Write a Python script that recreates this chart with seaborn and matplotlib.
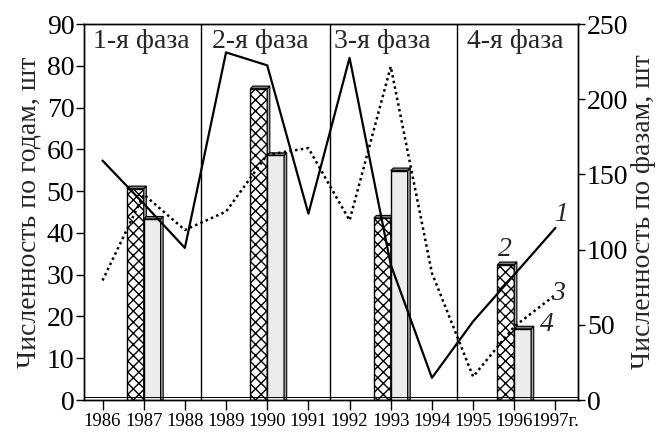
import numpy as np
import pandas as pd
import matplotlib
matplotlib.use("Agg")
import matplotlib.pyplot as plt
from matplotlib.patches import Polygon
import seaborn as sns

# yearly counts (left axis)
years = [1986, 1987, 1988, 1989, 1990, 1991, 1992, 1993, 1994, 1995, 1996, 1997]
year_labels = ["1986", "1987", "1988", "1989", "1990", "1991", "1992", "1993",
               "1994", "1995", "1996", "1997г."]
count_1 = [57.3, 47.0, 36.4, 83.2, 80.1, 44.6, 81.9, 32.4, 5.3, 18.8, 30.0, 41.2]
count_3 = [28.6, 49.2, 40.7, 45.1, 58.7, 60.3, 43.0, 79.8, 30.4, 5.6, 17.6, 25.2]

# counts per phase (right axis)
phase_years = [1987, 1990, 1993, 1996]
phase_2 = [140.5, 207.0, 121.0, 90.0]
phase_4 = [120.3, 162.6, 152.5, 47.3]
phase_names = ["1-я фаза", "2-я фаза", "3-я фаза", "4-я фаза"]
phase_bounds = [1988.38, 1991.53, 1994.62]

sns.set_theme(style="ticks")
plt.rcParams["font.family"] = ["Liberation Serif", "DejaVu Serif"]
plt.rcParams["hatch.linewidth"] = 1.0
plt.rcParams["hatch.color"] = "black"

W, H = 665, 432
fig = plt.figure(figsize=(W / 100, H / 100), dpi=100)
ax = fig.add_axes([84 / W, 1 - 400 / H, (578.5 - 84) / W, (400 - 24) / H])
ax2 = ax.twinx()

bars = pd.DataFrame({
    "year": phase_years * 2,
    "value": phase_2 + phase_4,
    "series": ["2"] * 4 + ["4"] * 4,
})
sns.barplot(data=bars, x="year", y="value", hue="series", native_scale=True,
            width=0.82 / 3, palette=["white", "#ececec"], saturation=1,
            edgecolor="black", linewidth=1.0, legend=False, ax=ax2)

xlim = (1985.55, 1997.56)
ax.set_xlim(*xlim)
ax.set_ylim(0, 90)
ax2.set_ylim(0, 250)

# 3D look: top cap and right side face for every bar
px_x = (xlim[1] - xlim[0]) / (578.5 - 84)
px_y = 250 / 376.0
dx, dy = 2.6 * px_x, 2.6 * px_y
for k, cont in enumerate(ax2.containers):
    z = 2 + k
    for rect in cont:
        x0, w, h = rect.get_x(), rect.get_width(), rect.get_height()
        rect.set_zorder(z)
        if k == 0:
            rect.set_hatch("xxx")
        top = Polygon([(x0, h), (x0 + dx, h + dy), (x0 + w + dx, h + dy), (x0 + w, h)],
                      closed=True, facecolor="#7a7a7a", edgecolor="black", lw=0.8, zorder=z)
        side = Polygon([(x0 + w, 0), (x0 + w, h), (x0 + w + dx, h + dy), (x0 + w + dx, 0)],
                       closed=True, facecolor="#a8a8a8", edgecolor="black", lw=0.8, zorder=z)
        ax2.add_patch(side)
        ax2.add_patch(top)

# yearly lines drawn above the bars
ax.set_zorder(ax2.get_zorder() + 1)
ax.patch.set_visible(False)
lines = pd.DataFrame({"year": years, "c1": count_1, "c3": count_3})
sns.lineplot(data=lines, x="year", y="c1", color="black", lw=1.6, ax=ax)
sns.lineplot(data=lines, x="year", y="c3", color="black", lw=1.8, ax=ax)
ax.lines[-1].set_linestyle((0, (1, 1.3)))

for b in phase_bounds:
    ax.axvline(b, color="black", lw=1.0, zorder=1)
ax.axhline(0.8, color="black", lw=0.7, zorder=1)

for name, xc in zip(phase_names, [1986.94, 1989.82, 1992.80, 1996.03]):
    ax.text(xc, 84.3, name, ha="center", va="baseline", fontsize=20)

for lbl, (xt, yt) in zip(["1", "2", "3", "4"],
                         [(1997.14, 44.3), (1995.77, 36.0), (1997.06, 25.6), (1996.78, 18.0)]):
    ax.text(xt, yt, lbl, ha="center", va="center", fontsize=20, style="italic")

ax.set_xticks(years)
ax.set_xticklabels(year_labels, fontsize=13.5)
ax.set_yticks(range(0, 91, 10))
ax2.set_yticks(range(0, 251, 50))
ax.tick_params(axis="y", labelsize=20, length=6, width=1, colors="black", pad=1)
ax.tick_params(axis="x", length=7, width=1, colors="black", pad=2)
ax2.tick_params(axis="y", labelsize=20, length=5, width=1, colors="black", pad=1)
ax.set_xlabel("")
ax2.set_xlabel("")
ax.set_ylabel("Численность по годам, шт", fontsize=20, labelpad=4)
ax2.set_ylabel("Численность по фазам, шт", fontsize=20, labelpad=2)
for a in (ax, ax2):
    for s in a.spines.values():
        s.set_visible(True)
        s.set_color("black")
        s.set_linewidth(1.0)

fig.savefig("out.png", dpi=100)
